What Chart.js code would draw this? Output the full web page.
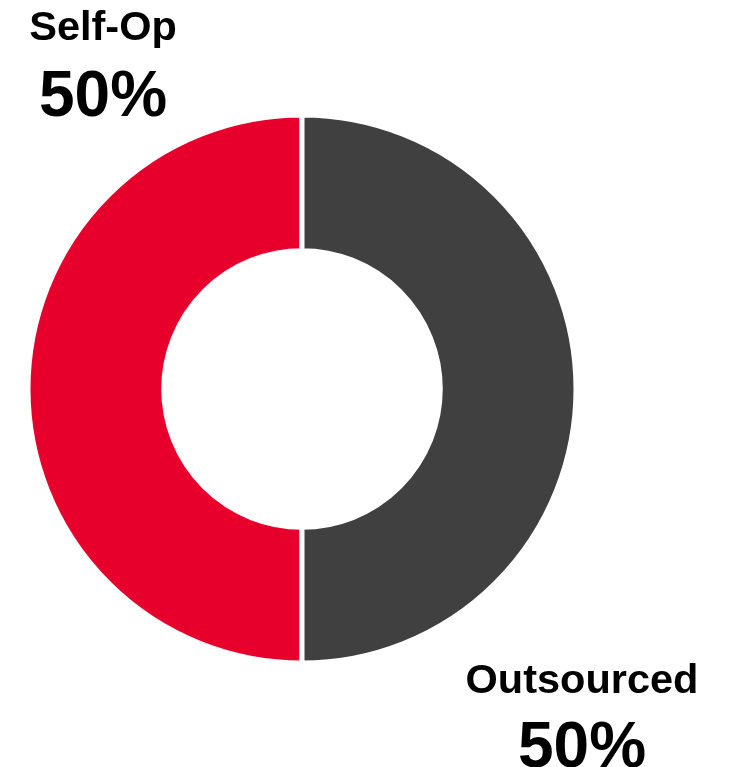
<!DOCTYPE html>
<html>
<head>
<meta charset="utf-8">
<script src="https://cdn.jsdelivr.net/npm/chart.js@4"></script>
<style>
  html, body { margin: 0; padding: 0; background: #fff; }
  #wrap { width: 730px; height: 767px; position: relative; }
</style>
</head>
<body>
<div id="wrap"><canvas id="chart"></canvas></div>
<script>
const categories = ['Self-Op', 'Outsourced'];
const shares = [50, 50];
const sliceColors = ['#E8002C', '#404040'];

// labels sit outside the ring, top-left and bottom-right
const labelSpots = [
  { x: 103, y: 40, vy: 116 },
  { x: 582, y: 693, vy: 767 }
];

const outsideLabels = {
  id: 'outsideLabels',
  afterDraw(chart) {
    const ctx = chart.ctx;
    ctx.save();
    ctx.fillStyle = '#000';
    ctx.textAlign = 'center';
    ctx.textBaseline = 'alphabetic';
    categories.forEach((name, i) => {
      const p = labelSpots[i];
      ctx.font = 'bold 41.5px "Liberation Sans", Arial, sans-serif';
      ctx.fillText(name, p.x, p.y);
      ctx.font = 'bold 64px "Liberation Sans", Arial, sans-serif';
      ctx.fillText(shares[i] + '%', p.x, p.vy);
    });
    ctx.restore();
  }
};

new Chart(document.getElementById('chart').getContext('2d'), {
  type: 'doughnut',
  data: {
    labels: categories,
    datasets: [{
      data: shares,
      backgroundColor: sliceColors,
      borderColor: '#fff',
      borderWidth: 5,
      hoverOffset: 0
    }]
  },
  options: {
    responsive: true,
    maintainAspectRatio: false,
    animation: false,
    rotation: 180,
    radius: 274,
    cutout: 136,
    layout: { padding: { left: 30, right: 156, top: 117, bottom: 106 } },
    plugins: {
      legend: { display: false },
      tooltip: { enabled: false }
    }
  },
  plugins: [outsideLabels]
});
</script>
</body>
</html>
